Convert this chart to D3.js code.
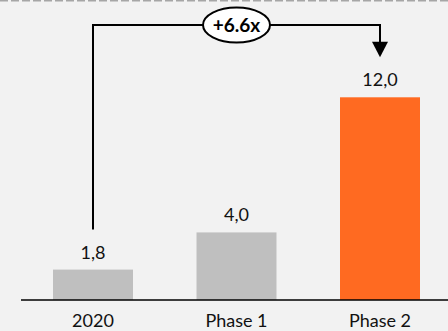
<!DOCTYPE html>
<html><head><meta charset="utf-8">
<script src="https://cdn.jsdelivr.net/npm/d3@7"></script>
<style>
html,body{margin:0;padding:0;background:#f2f2f2;}
svg{display:block;font-family:Lato,"Open Sans",sans-serif;}
</style></head>
<body><svg id="c" width="448" height="331"></svg>
<script>
const categories = ["2020", "Phase 1", "Phase 2"];
const values = [1.8, 4.0, 12.0];
const valueLabels = ["1,8", "4,0", "12,0"];
const barColors = ["#bfbfbf", "#bfbfbf", "#ff6a21"];
const growthLabel = "+6.6x";

const svg = d3.select("#c");
const W = 448, H = 331;
svg.append("rect").attr("width", W).attr("height", H).attr("fill", "#f2f2f2");
svg.append("line").attr("x1", 0).attr("x2", W).attr("y1", 0.8).attr("y2", 0.8)
  .attr("stroke", "#a6a6a6").attr("stroke-width", 1.6).attr("stroke-dasharray", "8,3");

const x = d3.scaleBand().domain(categories).range([21.5, 451.5])
  .paddingInner(0.4425).paddingOuter(0.2195);
const y = d3.scaleLinear().domain([0, 12]).range([300, 97.3]);

const data = categories.map((c, i) => ({c, v: values[i], l: valueLabels[i], col: barColors[i]}));

svg.selectAll("rect.bar").data(data).join("rect").attr("class", "bar")
  .attr("x", d => x(d.c)).attr("width", x.bandwidth())
  .attr("y", d => y(d.v)).attr("height", d => y(0) - y(d.v))
  .attr("fill", d => d.col);

svg.selectAll("text.val").data(data).join("text").attr("class", "val")
  .attr("x", d => x(d.c) + x.bandwidth() / 2).attr("y", d => y(d.v) - 11)
  .attr("text-anchor", "middle").attr("font-size", 18).attr("fill", "#111")
  .text(d => d.l);

const axis = svg.append("g").attr("transform", `translate(0,${y(0)})`)
  .call(d3.axisBottom(x).tickSize(0).tickPadding(0));
axis.select(".domain").attr("d", `M21,0H448`).attr("stroke", "#000").attr("stroke-width", 1.5);
axis.selectAll("text").attr("font-size", 18).attr("fill", "#111")
  .attr("font-family", "Lato, sans-serif").attr("dy", null).attr("y", 27);

// growth arrow
const cx0 = x(categories[0]) + x.bandwidth() / 2;
const cx2 = x(categories[2]) + x.bandwidth() / 2;
const yStart = y(values[0]) - 40;
const yTop = 25;
const yTip = y(values[2]) - 40;
svg.append("path")
  .attr("d", `M${cx0},${yStart}V${yTop}H${cx2}V${yTip - 14}`)
  .attr("fill", "none").attr("stroke", "#000").attr("stroke-width", 2);
svg.append("path")
  .attr("d", `M${cx2 - 8},${yTip - 15.5}L${cx2 + 8},${yTip - 15.5}L${cx2},${yTip}Z`)
  .attr("fill", "#000");
const ex = (x(categories[1]) + x.bandwidth() / 2);
svg.append("ellipse").attr("cx", ex).attr("cy", yTop).attr("rx", 33.5).attr("ry", 17.5)
  .attr("fill", "#fff").attr("stroke", "#000").attr("stroke-width", 2);
svg.append("text").attr("x", ex).attr("y", yTop + 7).attr("text-anchor", "middle")
  .attr("font-size", 19).attr("font-weight", "bold").attr("fill", "#000")
  .text(growthLabel);
</script></body></html>
